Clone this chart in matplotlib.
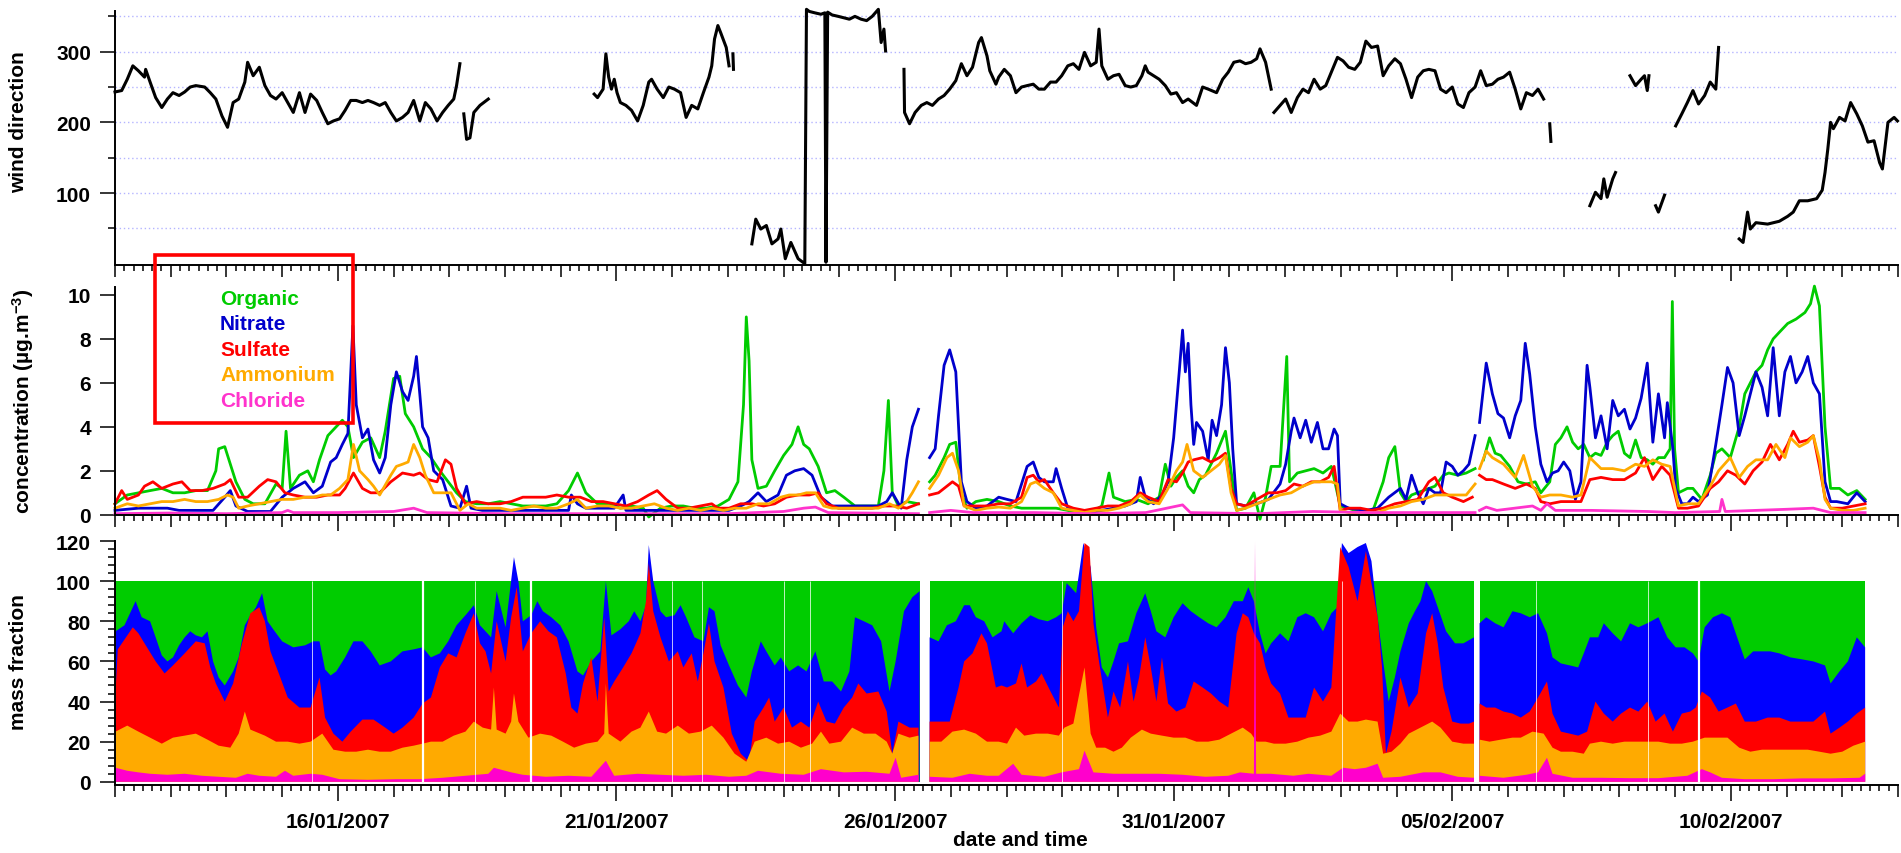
import datetime as dt
import numpy as np
import matplotlib
matplotlib.use("Agg")
import matplotlib.pyplot as plt
from matplotlib.ticker import FixedLocator, FuncFormatter, MultipleLocator
from matplotlib.patches import Rectangle

plt.rcParams["font.family"] = ["Liberation Sans", "DejaVu Sans"]
plt.rcParams["font.weight"] = "bold"
plt.rcParams["mathtext.fontset"] = "custom"
plt.rcParams["mathtext.rm"] = "Liberation Sans:bold"
plt.rcParams["mathtext.bf"] = "Liberation Sans:bold"
plt.rcParams["mathtext.it"] = "Liberation Sans:bold"

nan = np.nan
START = dt.datetime(2007, 1, 12)
SPAN_DAYS = 32
labelled_dates = ["2007-01-16", "2007-01-21", "2007-01-26",
                  "2007-01-31", "2007-02-05", "2007-02-10"]

# ---- wind direction (deg), (days since start, value); nan separates gaps ----
wind = [
    (0.00, 243), (0.12, 245), (0.22, 261), (0.32, 280), (0.42, 273), (0.53, 264), (0.55, 275),
    (0.63, 257), (0.73, 235), (0.84, 221), (0.94, 233), (1.04, 242), (1.15, 238), (1.25, 243),
    (1.35, 250), (1.45, 252), (1.61, 250), (1.71, 242), (1.81, 233), (1.92, 209), (2.02, 193),
    (2.12, 228), (2.22, 233), (2.33, 257), (2.38, 285), (2.48, 266), (2.59, 278), (2.69, 252),
    (2.79, 238), (2.89, 233), (3.00, 242), (3.10, 228), (3.20, 214), (3.31, 242), (3.41, 214),
    (3.51, 240), (3.62, 231), (3.72, 214), (3.82, 198), (3.92, 202), (4.03, 205), (4.13, 217),
    (4.23, 231), (4.33, 231), (4.44, 228), (4.54, 231), (4.64, 228), (4.75, 224), (4.85, 228),
    (4.95, 214), (5.05, 202), (5.16, 207), (5.26, 214), (5.36, 231), (5.47, 202), (5.57, 228),
    (5.67, 219), (5.78, 202), (5.88, 214), (5.98, 224), (6.08, 233), (6.13, 252), (6.19, 283),
    (6.22, nan),
    (6.26, 212), (6.31, 176), (6.37, 178), (6.44, 214), (6.55, 224), (6.70, 233),
    (7.50, nan),
    (8.60, 240), (8.66, 235), (8.76, 247), (8.81, 297), (8.86, 264), (8.91, 247), (8.96, 261),
    (9.01, 242), (9.07, 228), (9.17, 224), (9.27, 217), (9.38, 202), (9.48, 224), (9.58, 257),
    (9.63, 261), (9.73, 247), (9.84, 235), (9.94, 250), (10.04, 247), (10.15, 242), (10.25, 207),
    (10.35, 224), (10.46, 219), (10.56, 242), (10.66, 264), (10.71, 280), (10.76, 318),
    (10.82, 337), (10.87, 327), (10.97, 306), (11.02, 280),
    (11.05, nan), (11.09, 297), (11.10, 275), (11.20, nan),
    (11.43, 28), (11.50, 63), (11.59, 49), (11.69, 54), (11.79, 28), (11.90, 35), (11.95, 49),
    (12.03, 7), (12.13, 30), (12.26, 7), (12.38, 0), (12.41, 360), (12.46, 357), (12.56, 355),
    (12.67, 353), (12.74, 355), (12.76, 2), (12.79, 356), (12.87, 352), (12.98, 350),
    (13.08, 348), (13.18, 346), (13.28, 350), (13.39, 346), (13.49, 344), (13.59, 350),
    (13.70, 360), (13.75, 313), (13.80, 332), (13.83, 301),
    (14.00, nan),
    (14.16, 275), (14.17, 214), (14.26, 198), (14.36, 214), (14.47, 224), (14.57, 228),
    (14.67, 224), (14.78, 233), (14.88, 238), (14.98, 247), (15.09, 259), (15.19, 283),
    (15.29, 266), (15.39, 278), (15.50, 313), (15.55, 320), (15.65, 294), (15.70, 273),
    (15.81, 254), (15.86, 264), (15.96, 275), (16.07, 266), (16.17, 242), (16.27, 250),
    (16.37, 252), (16.48, 254), (16.58, 247), (16.68, 247), (16.79, 257), (16.89, 257),
    (16.99, 266), (17.10, 280), (17.20, 283), (17.30, 275), (17.40, 299), (17.51, 280),
    (17.61, 285), (17.66, 332), (17.71, 280), (17.82, 261), (17.92, 266), (18.02, 268),
    (18.13, 252), (18.23, 250), (18.33, 252), (18.43, 266), (18.49, 280), (18.54, 271),
    (18.64, 266), (18.74, 261), (18.85, 252), (18.95, 240), (19.05, 242), (19.16, 228),
    (19.26, 233), (19.41, 224), (19.52, 250), (19.62, 247), (19.77, 242), (19.88, 261),
    (19.98, 271), (20.08, 285), (20.19, 287), (20.29, 283), (20.39, 285), (20.49, 290),
    (20.55, 304), (20.65, 285), (20.75, 247),
    (20.78, nan),
    (20.80, 214), (20.91, 224), (21.01, 233), (21.11, 214), (21.22, 235), (21.32, 247),
    (21.42, 242), (21.52, 261), (21.63, 247), (21.73, 252), (21.83, 271), (21.94, 292),
    (22.04, 287), (22.14, 278), (22.25, 275), (22.35, 285), (22.45, 315), (22.55, 306),
    (22.66, 308), (22.76, 266), (22.86, 280), (22.97, 290), (23.07, 283), (23.17, 261),
    (23.27, 235), (23.38, 264), (23.48, 273), (23.58, 275), (23.69, 273), (23.79, 247),
    (23.89, 242), (24.00, 250), (24.10, 226), (24.20, 221), (24.30, 242), (24.41, 250),
    (24.51, 273), (24.61, 252), (24.72, 254), (24.82, 261), (24.92, 264), (25.03, 271),
    (25.13, 247), (25.23, 219), (25.33, 242), (25.44, 238), (25.54, 247), (25.64, 233),
    (25.70, nan), (25.75, 198), (25.77, 173), (26.10, nan),
    (26.47, 82), (26.57, 101), (26.67, 92), (26.72, 120), (26.78, 94), (26.88, 120),
    (26.93, 129), (27.05, nan),
    (27.19, 266), (27.29, 252), (27.39, 261), (27.45, 266), (27.50, 245), (27.53, 266),
    (27.60, nan), (27.65, 82), (27.70, 73), (27.81, 97), (27.90, nan),
    (28.01, 195), (28.12, 212), (28.22, 228), (28.32, 245), (28.42, 226), (28.53, 238),
    (28.63, 257), (28.73, 247), (28.78, 306), (29.00, nan),
    (29.15, 35), (29.22, 30), (29.30, 73), (29.35, 49), (29.45, 58), (29.66, 56), (29.87, 60),
    (30.02, 67), (30.12, 73), (30.23, 89), (30.38, 89), (30.54, 92), (30.64, 104), (30.69, 129),
    (30.74, 162), (30.79, 200), (30.84, 191), (30.95, 207), (31.05, 202), (31.15, 228),
    (31.26, 212), (31.36, 195), (31.46, 172), (31.57, 174), (31.67, 143), (31.72, 134),
    (31.77, 167), (31.82, 200), (31.93, 207), (31.99, 202),
]

# ---- concentrations (ug/m3) ----
organic = [
    (0.00, 0.5), (0.22, 0.9), (0.42, 1.0), (0.63, 1.1), (0.84, 1.2), (1.04, 1.0), (1.25, 1.0),
    (1.45, 1.1), (1.66, 1.1), (1.81, 2.0), (1.86, 3.0), (1.97, 3.1), (2.07, 2.3), (2.17, 1.5),
    (2.33, 0.7), (2.48, 0.5), (2.69, 0.5), (2.89, 1.4), (3.00, 1.2), (3.07, 3.8), (3.15, 1.2),
    (3.31, 1.8), (3.46, 2.0), (3.56, 1.5), (3.67, 2.5), (3.82, 3.6), (3.97, 4.0), (4.08, 4.3),
    (4.18, 4.0), (4.28, 2.6), (4.44, 3.3), (4.59, 3.5), (4.75, 2.6), (4.85, 3.8), (5.00, 6.2),
    (5.11, 6.3), (5.21, 4.6), (5.36, 4.0), (5.52, 3.0), (5.67, 2.6), (5.83, 2.0), (5.98, 1.5),
    (6.13, 1.0), (6.29, 0.6), (6.49, 0.5), (6.70, 0.5), (6.91, 0.6), (7.11, 0.5), (7.32, 0.4),
    (7.52, 0.4), (7.73, 0.4), (7.93, 0.5), (8.14, 1.1), (8.30, 1.9), (8.45, 1.0), (8.66, 0.5),
    (8.86, 0.5), (9.07, 0.3), (9.27, 0.4), (9.48, 0.3), (9.58, -0.1), (9.79, 0.3), (9.99, 0.4),
    (10.20, 0.4), (10.40, 0.3), (10.61, 0.3), (10.82, 0.4), (11.02, 0.7), (11.18, 1.5),
    (11.28, 5.0), (11.33, 9.0), (11.38, 7.0), (11.43, 2.5), (11.54, 1.2), (11.69, 1.3),
    (11.84, 2.0), (12.00, 2.7), (12.15, 3.2), (12.26, 4.0), (12.36, 3.2), (12.46, 3.0),
    (12.62, 2.2), (12.77, 1.0), (12.92, 1.1), (13.08, 0.8), (13.28, 0.4), (13.49, 0.4),
    (13.70, 0.4), (13.80, 2.0), (13.88, 5.2), (13.95, 1.0), (14.06, 0.4), (14.21, 0.6),
    (14.42, 0.5), (14.53, nan), (14.62, 1.5), (14.72, 1.8), (14.88, 2.6), (14.98, 3.2),
    (15.09, 3.3), (15.19, 1.0), (15.29, 0.3), (15.45, 0.6), (15.65, 0.7), (15.86, 0.6),
    (16.07, 0.4), (16.27, 0.3), (16.48, 0.3), (16.68, 0.3), (16.89, 0.3), (17.10, 0.2),
    (17.30, 0.1), (17.51, 0.1), (17.71, 0.4), (17.84, 1.9), (17.92, 0.8), (18.13, 0.6),
    (18.33, 0.7), (18.54, 0.5), (18.74, 0.8), (18.85, 2.3), (18.95, 1.3), (19.05, 1.7),
    (19.16, 2.0), (19.26, 1.3), (19.36, 1.0), (19.46, 1.6), (19.57, 1.8), (19.67, 2.3),
    (19.77, 2.8), (19.93, 3.8), (20.03, 2.0), (20.13, 0.2), (20.29, 0.3), (20.44, 1.0),
    (20.55, -0.2), (20.65, 0.8), (20.75, 2.2), (20.91, 2.2), (21.03, 7.2), (21.08, 1.5),
    (21.22, 1.9), (21.37, 2.0), (21.52, 2.1), (21.68, 1.9), (21.83, 2.2), (21.99, 0.4),
    (22.14, 0.3), (22.35, 0.1), (22.55, 0.0), (22.76, 1.5), (22.86, 2.6), (22.97, 3.1),
    (23.07, 1.0), (23.17, 0.6), (23.27, 0.9), (23.48, 1.1), (23.69, 1.3), (23.84, 1.8),
    (23.94, 1.9), (24.10, 1.8), (24.25, 1.9), (24.41, 2.1), (24.44, nan), (24.56, 2.5),
    (24.67, 3.5), (24.77, 2.8), (24.87, 2.7), (25.03, 2.2), (25.18, 1.5), (25.33, 1.4),
    (25.49, 1.5), (25.59, 1.0), (25.75, 1.5), (25.85, 3.2), (25.95, 3.5), (26.06, 4.0),
    (26.16, 3.3), (26.26, 3.0), (26.36, 3.2), (26.47, 2.6), (26.57, 2.8), (26.67, 2.7),
    (26.78, 3.3), (26.88, 3.6), (26.98, 3.8), (27.09, 2.8), (27.19, 2.6), (27.29, 3.4),
    (27.39, 2.6), (27.50, 2.5), (27.60, 2.3), (27.70, 2.6), (27.81, 2.6), (27.91, 3.0),
    (27.95, 9.7), (27.99, 3.0), (28.06, 1.0), (28.22, 1.2), (28.32, 1.2), (28.48, 0.7),
    (28.63, 1.8), (28.73, 2.8), (28.84, 3.0), (28.99, 2.6), (29.15, 4.0), (29.25, 5.5),
    (29.35, 6.0), (29.45, 6.5), (29.56, 6.8), (29.66, 7.5), (29.76, 8.0), (29.87, 8.3),
    (30.02, 8.7), (30.17, 8.9), (30.33, 9.2), (30.43, 9.6), (30.50, 10.4), (30.59, 9.5),
    (30.69, 4.0), (30.79, 1.2), (30.95, 1.2), (31.10, 0.9), (31.26, 1.1), (31.41, 0.7),
]

nitrate = [
    (0.00, 0.2), (0.42, 0.3), (0.94, 0.3), (1.15, 0.2), (1.76, 0.2), (1.97, 0.8), (2.07, 1.1),
    (2.17, 0.4), (2.38, 0.15), (2.79, 0.15), (3.00, 0.8), (3.20, 1.2), (3.41, 1.5), (3.56, 1.0),
    (3.72, 1.3), (3.87, 2.4), (3.97, 2.6), (4.08, 3.2), (4.18, 3.7), (4.27, 8.6), (4.33, 5.0),
    (4.44, 3.5), (4.54, 3.9), (4.64, 2.5), (4.75, 1.9), (4.85, 2.6), (4.95, 5.0), (5.05, 6.5),
    (5.16, 5.6), (5.26, 5.2), (5.36, 6.3), (5.41, 7.2), (5.47, 5.5), (5.52, 4.0), (5.62, 3.5),
    (5.72, 2.0), (5.88, 1.6), (6.03, 0.4), (6.19, 0.3), (6.31, 1.3), (6.39, 0.3), (6.59, 0.2),
    (8.14, 0.2), (8.19, 0.9), (8.30, 0.5), (8.45, 0.3), (8.96, 0.3), (9.12, 0.9), (9.17, 0.2),
    (11.02, 0.2), (11.23, 0.4), (11.38, 0.6), (11.54, 1.0), (11.69, 0.6), (11.90, 0.9),
    (12.05, 1.8), (12.20, 2.0), (12.36, 2.1), (12.51, 1.8), (12.67, 0.8), (12.87, 0.4),
    (13.70, 0.4), (13.85, 0.6), (13.95, 1.0), (14.11, 0.3), (14.21, 2.5), (14.31, 4.0),
    (14.42, 4.8), (14.53, nan), (14.62, 2.6), (14.72, 3.0), (14.78, 4.5), (14.88, 6.8),
    (14.98, 7.5), (15.09, 6.5), (15.14, 4.0), (15.19, 1.5), (15.29, 0.6), (15.45, 0.3),
    (15.65, 0.4), (15.86, 0.8), (16.01, 0.7), (16.17, 0.6), (16.37, 2.2), (16.48, 2.4),
    (16.58, 1.7), (16.68, 1.5), (16.84, 1.5), (16.89, 2.1), (16.99, 1.2), (17.10, 0.3),
    (17.30, 0.2), (17.51, 0.1), (17.71, 0.2), (17.92, 0.3), (18.13, 0.4), (18.33, 0.6),
    (18.40, 1.7), (18.49, 0.8), (18.64, 0.5), (18.79, 0.9), (18.90, 1.5), (19.00, 3.5),
    (19.10, 6.5), (19.16, 8.4), (19.21, 6.5), (19.26, 7.8), (19.31, 5.0), (19.36, 3.2),
    (19.41, 4.2), (19.52, 3.8), (19.62, 2.5), (19.69, 4.3), (19.77, 3.6), (19.86, 5.0),
    (19.93, 7.6), (20.00, 6.0), (20.06, 3.0), (20.13, 0.5), (20.29, 0.4), (20.49, 0.5),
    (20.70, 0.7), (20.91, 1.4), (21.01, 2.3), (21.11, 3.8), (21.16, 4.4), (21.27, 3.5),
    (21.37, 4.3), (21.47, 3.3), (21.58, 4.2), (21.68, 3.0), (21.78, 3.0), (21.88, 3.9),
    (21.94, 3.6), (21.99, 0.5), (22.14, 0.3), (22.45, 0.2), (22.66, 0.3), (22.86, 0.8),
    (23.07, 1.2), (23.17, 0.7), (23.27, 1.8), (23.38, 1.0), (23.48, 0.5), (23.58, 1.2),
    (23.69, 1.0), (23.79, 1.0), (23.89, 2.4), (24.00, 2.2), (24.10, 1.8), (24.20, 2.0),
    (24.30, 2.3), (24.41, 3.6), (24.44, nan), (24.49, 4.2), (24.61, 6.9), (24.72, 5.5),
    (24.82, 4.6), (24.92, 4.4), (25.03, 3.5), (25.13, 4.5), (25.23, 5.2), (25.31, 7.8),
    (25.39, 6.4), (25.49, 4.0), (25.59, 2.3), (25.70, 1.5), (25.80, 1.9), (25.90, 2.0),
    (26.00, 2.4), (26.11, 2.0), (26.21, 0.7), (26.31, 1.5), (26.42, 6.8), (26.47, 5.8),
    (26.57, 3.5), (26.67, 4.5), (26.78, 3.0), (26.88, 5.2), (26.98, 4.5), (27.09, 4.8),
    (27.19, 3.9), (27.29, 4.4), (27.39, 5.3), (27.50, 6.9), (27.60, 3.3), (27.70, 5.5),
    (27.81, 3.5), (27.86, 5.1), (27.96, 3.0), (28.01, 1.2), (28.12, 0.5), (28.22, 0.5),
    (28.32, 0.8), (28.42, 0.6), (28.58, 0.9), (28.73, 3.2), (28.84, 5.0), (28.94, 6.7),
    (29.04, 6.0), (29.15, 3.6), (29.25, 4.5), (29.35, 5.5), (29.45, 6.5), (29.56, 5.8),
    (29.66, 4.5), (29.76, 7.6), (29.87, 4.5), (29.97, 6.5), (30.07, 7.2), (30.17, 6.0),
    (30.28, 6.5), (30.38, 7.2), (30.48, 6.0), (30.59, 5.5), (30.69, 1.5), (30.79, 0.6),
    (30.90, 0.6), (31.10, 0.5), (31.26, 1.0), (31.41, 0.6),
]

sulfate = [
    (0.00, 0.5), (0.12, 1.1), (0.22, 0.7), (0.42, 0.9), (0.53, 1.3), (0.68, 1.5), (0.84, 1.2),
    (1.04, 1.4), (1.20, 1.5), (1.35, 1.1), (1.56, 1.1), (1.76, 1.2), (1.97, 1.4), (2.07, 1.6),
    (2.22, 0.8), (2.38, 0.8), (2.59, 1.3), (2.74, 1.6), (2.89, 1.5), (3.05, 1.0), (3.20, 0.9),
    (3.41, 0.8), (3.62, 0.8), (3.82, 0.9), (4.03, 0.9), (4.13, 1.2), (4.28, 1.9), (4.44, 1.2),
    (4.59, 1.0), (4.75, 1.0), (4.95, 1.5), (5.16, 1.9), (5.36, 1.8), (5.47, 1.9), (5.62, 1.6),
    (5.78, 1.5), (5.93, 2.5), (6.03, 2.3), (6.13, 1.2), (6.29, 0.5), (6.49, 0.6), (6.70, 0.5),
    (6.91, 0.5), (7.11, 0.6), (7.32, 0.8), (7.52, 0.8), (7.73, 0.8), (7.93, 0.9), (8.14, 0.8),
    (8.35, 0.8), (8.55, 0.6), (8.76, 0.6), (8.96, 0.5), (9.17, 0.4), (9.38, 0.6), (9.58, 0.9),
    (9.73, 1.1), (9.89, 0.7), (10.10, 0.3), (10.30, 0.3), (10.51, 0.4), (10.71, 0.5),
    (10.82, 0.3), (11.02, 0.3), (11.23, 0.5), (11.43, 0.5), (11.64, 0.4), (11.84, 0.5),
    (12.05, 0.8), (12.26, 0.9), (12.46, 0.9), (12.62, 1.0), (12.77, 0.5), (12.98, 0.3),
    (13.18, 0.3), (13.39, 0.3), (13.59, 0.3), (13.80, 0.4), (14.01, 0.4), (14.21, 0.3),
    (14.42, 0.5), (14.53, nan), (14.62, 0.9), (14.78, 1.0), (14.93, 1.3), (15.03, 1.5),
    (15.14, 1.3), (15.24, 0.4), (15.45, 0.4), (15.65, 0.4), (15.86, 0.5), (16.07, 0.5),
    (16.27, 0.8), (16.37, 1.7), (16.48, 1.8), (16.58, 1.5), (16.68, 1.6), (16.84, 1.0),
    (16.99, 0.5), (17.20, 0.3), (17.40, 0.2), (17.61, 0.3), (17.82, 0.4), (18.02, 0.4),
    (18.23, 0.6), (18.40, 1.0), (18.54, 0.8), (18.74, 0.6), (18.90, 1.6), (19.05, 1.5),
    (19.16, 1.9), (19.26, 2.4), (19.36, 2.5), (19.52, 2.6), (19.67, 2.4), (19.82, 2.6),
    (19.93, 2.8), (20.03, 1.2), (20.13, 0.5), (20.29, 0.4), (20.49, 0.7), (20.70, 1.0),
    (20.85, 1.0), (21.01, 1.1), (21.16, 1.4), (21.32, 1.3), (21.47, 1.5), (21.63, 1.5),
    (21.78, 1.7), (21.88, 2.2), (21.99, 0.2), (22.14, 0.3), (22.35, 0.3), (22.55, 0.2),
    (22.76, 0.3), (22.97, 0.5), (23.17, 0.6), (23.38, 0.7), (23.58, 1.5), (23.69, 1.7),
    (23.84, 1.0), (24.00, 0.8), (24.20, 0.6), (24.36, 0.8), (24.44, nan), (24.49, 1.8),
    (24.61, 1.6), (24.72, 1.6), (24.92, 1.4), (25.13, 1.2), (25.33, 1.4), (25.49, 1.2),
    (25.59, 0.6), (25.75, 0.5), (25.95, 0.6), (26.16, 0.6), (26.31, 0.6), (26.47, 1.6),
    (26.67, 1.7), (26.88, 1.6), (27.09, 1.6), (27.29, 1.9), (27.45, 2.6), (27.60, 1.6),
    (27.76, 2.2), (27.91, 1.8), (28.06, 0.3), (28.22, 0.3), (28.42, 0.4), (28.63, 1.2),
    (28.78, 1.5), (28.94, 2.0), (29.09, 1.8), (29.25, 1.4), (29.40, 2.0), (29.56, 2.4),
    (29.71, 3.2), (29.87, 2.5), (30.02, 3.2), (30.12, 3.8), (30.23, 3.3), (30.38, 3.4),
    (30.48, 3.6), (30.59, 2.2), (30.69, 0.8), (30.79, 0.3), (31.00, 0.3), (31.20, 0.4),
    (31.41, 0.5),
]

ammonium = [
    (0.00, 0.3), (0.22, 0.5), (0.42, 0.4), (0.63, 0.5), (0.84, 0.6), (1.04, 0.6), (1.25, 0.7),
    (1.45, 0.6), (1.66, 0.6), (1.86, 0.7), (2.02, 0.9), (2.12, 0.8), (2.22, 0.3), (2.38, 0.4),
    (2.59, 0.5), (2.79, 0.6), (3.00, 0.7), (3.20, 0.7), (3.41, 0.8), (3.56, 0.8), (3.72, 0.9),
    (3.87, 0.9), (4.03, 1.2), (4.18, 1.6), (4.28, 3.2), (4.39, 2.0), (4.54, 1.6), (4.64, 1.3),
    (4.75, 0.9), (4.95, 1.8), (5.05, 2.2), (5.16, 2.3), (5.26, 2.4), (5.36, 3.2), (5.47, 2.6),
    (5.57, 1.8), (5.72, 1.0), (5.88, 1.0), (6.03, 1.0), (6.19, 0.2), (6.34, 0.5), (6.49, 0.3),
    (6.91, 0.3), (7.11, 0.2), (7.32, 0.3), (7.52, 0.4), (7.73, 0.3), (7.93, 0.3), (8.14, 0.5),
    (8.30, 0.7), (8.45, 0.3), (8.66, 0.4), (8.86, 0.4), (9.07, 0.3), (9.27, 0.3), (9.48, 0.4),
    (9.68, 0.5), (9.89, 0.3), (10.10, 0.2), (10.30, 0.3), (10.51, 0.2), (10.71, 0.3),
    (10.92, 0.2), (11.12, 0.3), (11.33, 0.3), (11.54, 0.5), (11.74, 0.5), (11.95, 0.8),
    (12.10, 0.9), (12.26, 0.9), (12.41, 1.0), (12.57, 1.0), (12.72, 0.4), (12.87, 0.3),
    (13.70, 0.3), (13.90, 0.5), (14.06, 0.3), (14.21, 0.6), (14.31, 1.0), (14.42, 1.5),
    (14.53, nan), (14.62, 1.2), (14.78, 1.8), (14.93, 2.6), (15.03, 2.8), (15.14, 2.0),
    (15.24, 0.4), (15.45, 0.2), (15.65, 0.3), (15.86, 0.35), (16.07, 0.3), (16.27, 0.6),
    (16.43, 1.4), (16.53, 1.5), (16.68, 1.2), (16.84, 1.0), (16.99, 0.3), (17.20, 0.2),
    (17.40, 0.1), (17.61, 0.2), (17.82, 0.2), (18.02, 0.3), (18.23, 0.5), (18.40, 0.9),
    (18.54, 0.6), (18.74, 0.5), (18.90, 1.2), (19.05, 2.0), (19.16, 2.4), (19.24, 3.2),
    (19.36, 2.0), (19.52, 1.7), (19.67, 2.0), (19.82, 2.3), (19.93, 2.7), (20.03, 1.0),
    (20.13, 0.2), (20.29, 0.3), (20.49, 0.5), (20.70, 0.7), (20.91, 0.9), (21.11, 1.0),
    (21.32, 1.3), (21.52, 1.5), (21.68, 1.5), (21.83, 1.5), (21.94, 1.4), (21.99, 0.2),
    (22.14, 0.1), (22.66, 0.1), (22.86, 0.3), (23.07, 0.4), (23.27, 0.6), (23.48, 0.7),
    (23.69, 0.9), (23.89, 0.9), (24.10, 0.9), (24.25, 0.9), (24.41, 1.4), (24.44, nan),
    (24.49, 2.1), (24.61, 2.9), (24.72, 2.6), (24.92, 2.3), (25.13, 1.7), (25.28, 2.7),
    (25.44, 1.3), (25.59, 0.8), (25.75, 0.9), (25.95, 0.9), (26.16, 0.8), (26.31, 0.9),
    (26.47, 2.6), (26.67, 2.1), (26.88, 2.1), (27.09, 2.0), (27.29, 2.3), (27.45, 2.2),
    (27.60, 2.5), (27.76, 2.3), (27.91, 2.2), (28.06, 0.4), (28.22, 0.5), (28.42, 0.5),
    (28.63, 1.3), (28.78, 2.0), (28.99, 2.6), (29.15, 1.7), (29.30, 2.2), (29.45, 2.5),
    (29.66, 2.5), (29.81, 3.2), (29.97, 2.6), (30.07, 3.5), (30.23, 3.1), (30.38, 3.3),
    (30.48, 3.6), (30.59, 2.5), (30.69, 0.7), (30.79, 0.3), (31.00, 0.2), (31.20, 0.2),
    (31.41, 0.3),
]

chloride = [
    (0.00, 0.05), (1.00, 0.08), (2.00, 0.05), (3.00, 0.10), (3.10, 0.20), (3.20, 0.10),
    (4.00, 0.10), (5.00, 0.15), (5.36, 0.30), (5.60, 0.10), (7.00, 0.05), (9.00, 0.05),
    (11.00, 0.05), (12.00, 0.15), (12.36, 0.30), (12.57, 0.35), (12.80, 0.10), (14.42, 0.05),
    (14.53, nan), (14.62, 0.10), (15.00, 0.20), (15.40, 0.10), (16.50, 0.10), (17.50, 0.05),
    (18.50, 0.10), (19.16, 0.45), (19.30, 0.10), (20.50, 0.05), (21.50, 0.15), (22.50, 0.10),
    (23.50, 0.10), (24.41, 0.10), (24.44, nan), (24.49, 0.20), (24.61, 0.35), (24.80, 0.20),
    (25.44, 0.40), (25.59, 0.20), (25.70, 0.50), (25.85, 0.20), (26.50, 0.20), (27.50, 0.15),
    (28.00, 0.10), (28.80, 0.15), (28.84, 0.70), (28.90, 0.15), (30.00, 0.25), (30.48, 0.30),
    (30.79, 0.10), (31.41, 0.10),
]

# ---- cumulative mass fraction (%): top edge of each stacked layer ----
organic_cum = [(0.00, 100), (14.44, 100), (14.53, nan), (14.62, 100), (24.39, 100),
               (24.43, nan), (24.49, 100), (31.41, 100)]

nitrate_cum = [
    (0.01, 75), (0.17, 78), (0.37, 90), (0.48, 82), (0.63, 80), (0.73, 72), (0.84, 63),
    (0.94, 60), (1.04, 62), (1.15, 68), (1.25, 72), (1.35, 75), (1.45, 73), (1.56, 72),
    (1.66, 75), (1.76, 60), (1.86, 52), (1.97, 48), (2.12, 55), (2.22, 62), (2.33, 78),
    (2.43, 83), (2.53, 87), (2.64, 94), (2.74, 80), (2.84, 76), (3.00, 70), (3.20, 67),
    (3.41, 68), (3.56, 70), (3.67, 70), (3.77, 56), (3.87, 53), (3.97, 55), (4.13, 62),
    (4.28, 70), (4.44, 70), (4.59, 65), (4.75, 58), (4.95, 60), (5.16, 65), (5.36, 66),
    (5.52, 67), (5.67, 62), (5.83, 64), (5.98, 70), (6.13, 78), (6.29, 83), (6.44, 88),
    (6.55, 78), (6.65, 75), (6.75, 72), (6.85, 95), (7.01, 77), (7.16, 112), (7.24, 100),
    (7.32, 80), (7.47, 83), (7.58, 90), (7.68, 85), (7.83, 82), (7.99, 78), (8.14, 70),
    (8.30, 55), (8.40, 53), (8.55, 60), (8.71, 65), (8.81, 100), (8.91, 73), (9.07, 76),
    (9.22, 80), (9.32, 85), (9.43, 80), (9.53, 88), (9.58, 118), (9.66, 100), (9.79, 85),
    (9.89, 82), (10.04, 83), (10.15, 88), (10.25, 82), (10.40, 72), (10.56, 70), (10.66, 87),
    (10.76, 85), (10.87, 68), (11.02, 58), (11.18, 48), (11.33, 42), (11.43, 55), (11.59, 70),
    (11.69, 65), (11.84, 58), (11.95, 62), (12.10, 55), (12.26, 58), (12.41, 55), (12.57, 65),
    (12.72, 50), (12.87, 50), (13.03, 45), (13.18, 55), (13.28, 82), (13.44, 80), (13.59, 78),
    (13.75, 70), (13.90, 45), (14.01, 60), (14.16, 85), (14.31, 92), (14.44, 95), (14.53, nan),
    (14.62, 72), (14.78, 70), (14.93, 78), (15.09, 80), (15.24, 88), (15.34, 88), (15.45, 82),
    (15.60, 80), (15.75, 72), (15.91, 75), (15.96, 80), (16.12, 74), (16.27, 79), (16.43, 83),
    (16.58, 81), (16.74, 80), (16.89, 82), (16.99, 84), (17.08, 99), (17.15, 97), (17.25, 94),
    (17.38, 119), (17.51, 107), (17.61, 77), (17.71, 57), (17.82, 52), (17.92, 60), (18.02, 69),
    (18.18, 70), (18.33, 84), (18.49, 94), (18.59, 85), (18.69, 75), (18.85, 72), (19.00, 82),
    (19.16, 89), (19.31, 85), (19.46, 82), (19.62, 79), (19.77, 77), (19.93, 82), (20.08, 90),
    (20.24, 90), (20.34, 97), (20.44, 90), (20.55, 74), (20.65, 64), (20.75, 69), (20.91, 74),
    (21.06, 70), (21.22, 82), (21.37, 84), (21.52, 82), (21.68, 75), (21.83, 84), (21.94, 87),
    (22.02, 119), (22.14, 114), (22.30, 117), (22.45, 119), (22.55, 110), (22.66, 82),
    (22.76, 60), (22.86, 40), (22.97, 52), (23.07, 65), (23.22, 79), (23.33, 85), (23.43, 90),
    (23.53, 100), (23.64, 95), (23.74, 87), (23.89, 75), (24.05, 69), (24.20, 69), (24.39, 72),
    (24.43, nan), (24.49, 79), (24.61, 82), (24.77, 79), (24.92, 77), (25.08, 85), (25.23, 84),
    (25.39, 82), (25.54, 84), (25.70, 74), (25.80, 62), (25.95, 59), (26.11, 58), (26.26, 57),
    (26.36, 64), (26.47, 72), (26.62, 72), (26.72, 79), (26.88, 74), (27.03, 70), (27.19, 79),
    (27.34, 77), (27.50, 79), (27.70, 82), (27.86, 72), (28.01, 67), (28.17, 67), (28.32, 64),
    (28.42, 60), (28.53, 77), (28.68, 82), (28.84, 84), (28.99, 82), (29.15, 69), (29.25, 61),
    (29.40, 65), (29.56, 65), (29.71, 65), (29.87, 64), (30.07, 62), (30.28, 61), (30.48, 60),
    (30.69, 58), (30.79, 49), (30.95, 55), (31.10, 60), (31.26, 72), (31.41, 67),
]

sulfate_cum = [
    (0.01, 45), (0.05, 66), (0.32, 77), (0.42, 74), (0.53, 69), (0.73, 60), (0.89, 54),
    (1.04, 58), (1.25, 64), (1.45, 70), (1.61, 69), (1.71, 57), (1.81, 49), (1.97, 40),
    (2.12, 49), (2.28, 69), (2.43, 84), (2.59, 87), (2.69, 80), (2.79, 65), (2.94, 54),
    (3.10, 42), (3.31, 37), (3.51, 37), (3.67, 52), (3.77, 32), (3.92, 24), (4.08, 20),
    (4.23, 25), (4.44, 31), (4.64, 31), (4.85, 27), (5.00, 24), (5.16, 27), (5.36, 32),
    (5.52, 39), (5.67, 42), (5.83, 57), (5.98, 64), (6.13, 62), (6.29, 74), (6.44, 84),
    (6.55, 69), (6.65, 65), (6.75, 54), (6.85, 80), (7.01, 60), (7.11, 82), (7.21, 97),
    (7.32, 65), (7.47, 74), (7.63, 80), (7.78, 75), (7.93, 72), (8.09, 54), (8.19, 37),
    (8.30, 34), (8.40, 49), (8.55, 62), (8.66, 40), (8.78, 82), (8.86, 45), (8.96, 50),
    (9.12, 57), (9.27, 64), (9.43, 74), (9.53, 90), (9.58, 109), (9.66, 85), (9.79, 72),
    (9.94, 60), (10.10, 65), (10.20, 57), (10.35, 64), (10.46, 50), (10.56, 64), (10.66, 79),
    (10.76, 60), (10.92, 47), (11.07, 24), (11.23, 14), (11.38, 10), (11.48, 30), (11.64, 37),
    (11.74, 42), (11.84, 30), (12.00, 37), (12.15, 27), (12.31, 30), (12.46, 27), (12.62, 40),
    (12.77, 30), (12.92, 29), (13.08, 37), (13.23, 42), (13.34, 49), (13.49, 44), (13.70, 45),
    (13.85, 35), (13.95, 14), (14.06, 30), (14.26, 27), (14.42, 27), (14.53, nan), (14.62, 30),
    (14.83, 30), (14.98, 30), (15.14, 47), (15.24, 60), (15.39, 64), (15.55, 74), (15.65, 69),
    (15.81, 47), (15.91, 48), (16.01, 47), (16.17, 49), (16.27, 59), (16.37, 47), (16.53, 50),
    (16.63, 54), (16.79, 45), (16.94, 37), (17.01, 77), (17.10, 85), (17.20, 80), (17.30, 85),
    (17.40, 119), (17.49, 117), (17.56, 79), (17.66, 60), (17.82, 32), (17.92, 45), (18.04, 37),
    (18.18, 60), (18.28, 40), (18.38, 52), (18.49, 72), (18.59, 57), (18.69, 40), (18.79, 62),
    (18.90, 39), (19.05, 35), (19.21, 37), (19.36, 50), (19.52, 47), (19.67, 44), (19.82, 40),
    (19.98, 37), (20.13, 74), (20.24, 84), (20.34, 82), (20.44, 74), (20.55, 69), (20.65, 57),
    (20.75, 49), (20.91, 44), (21.06, 32), (21.22, 32), (21.37, 32), (21.52, 47), (21.68, 40),
    (21.83, 47), (21.99, 117), (22.14, 107), (22.30, 90), (22.45, 115), (22.55, 99),
    (22.66, 82), (22.74, 57), (22.81, 14), (22.91, 25), (23.07, 52), (23.22, 37), (23.38, 44),
    (23.53, 74), (23.64, 84), (23.74, 69), (23.84, 47), (24.00, 30), (24.15, 29), (24.30, 29),
    (24.39, 30), (24.43, nan), (24.49, 39), (24.61, 37), (24.77, 37), (24.92, 35), (25.08, 34),
    (25.23, 32), (25.39, 35), (25.54, 42), (25.70, 50), (25.80, 34), (25.95, 25), (26.11, 24),
    (26.26, 23), (26.42, 25), (26.57, 40), (26.72, 34), (26.88, 30), (27.03, 34), (27.19, 37),
    (27.34, 35), (27.50, 40), (27.65, 30), (27.81, 34), (27.96, 25), (28.12, 34), (28.27, 35),
    (28.37, 37), (28.48, 45), (28.63, 42), (28.78, 35), (28.94, 37), (29.09, 39), (29.25, 30),
    (29.45, 30), (29.66, 32), (29.87, 32), (30.07, 30), (30.28, 30), (30.48, 30), (30.69, 35),
    (30.79, 24), (30.95, 27), (31.10, 30), (31.26, 34), (31.41, 37),
]

ammonium_cum = [
    (0.01, 25), (0.22, 28), (0.42, 25), (0.63, 22), (0.84, 19), (1.04, 22), (1.25, 23),
    (1.45, 24), (1.66, 21), (1.86, 18), (2.07, 17), (2.22, 24), (2.33, 35), (2.43, 26),
    (2.69, 23), (2.89, 20), (3.10, 20), (3.31, 19), (3.51, 20), (3.72, 24), (3.92, 16),
    (4.13, 15), (4.33, 15), (4.54, 16), (4.75, 15), (4.95, 15), (5.16, 17), (5.36, 18),
    (5.52, 19), (5.67, 20), (5.88, 20), (6.08, 23), (6.29, 25), (6.44, 30), (6.60, 27),
    (6.75, 26), (6.80, 47), (6.85, 26), (7.01, 24), (7.11, 30), (7.16, 44), (7.24, 30),
    (7.42, 22), (7.63, 24), (7.83, 23), (8.04, 20), (8.24, 17), (8.45, 19), (8.66, 20),
    (8.78, 24), (8.81, 49), (8.86, 24), (9.07, 20), (9.27, 25), (9.43, 27), (9.58, 35),
    (9.73, 25), (9.89, 24), (10.10, 28), (10.30, 24), (10.51, 25), (10.71, 28), (10.92, 22),
    (11.12, 14), (11.33, 10), (11.48, 20), (11.69, 22), (11.90, 19), (12.10, 20), (12.31, 17),
    (12.51, 19), (12.67, 25), (12.82, 19), (13.03, 20), (13.23, 27), (13.44, 24), (13.65, 24),
    (13.85, 20), (13.95, 14), (14.06, 24), (14.26, 22), (14.42, 23), (14.53, nan), (14.62, 20),
    (14.83, 20), (15.03, 25), (15.24, 26), (15.45, 24), (15.65, 20), (15.86, 20), (16.01, 19),
    (16.17, 27), (16.32, 23), (16.53, 24), (16.74, 24), (16.94, 23), (17.04, 27), (17.20, 29),
    (17.40, 57), (17.51, 24), (17.61, 17), (17.77, 17), (17.92, 15), (18.07, 17), (18.23, 22),
    (18.43, 26), (18.59, 24), (18.79, 23), (19.00, 22), (19.21, 22), (19.41, 20), (19.62, 20),
    (19.82, 21), (20.03, 24), (20.24, 27), (20.39, 24), (20.49, 20), (20.65, 20), (20.80, 19),
    (21.01, 19), (21.22, 20), (21.42, 22), (21.63, 23), (21.83, 25), (21.99, 34), (22.14, 30),
    (22.30, 30), (22.45, 31), (22.66, 30), (22.76, 14), (22.91, 15), (23.07, 19), (23.22, 24),
    (23.43, 27), (23.64, 30), (23.79, 27), (24.00, 20), (24.20, 19), (24.39, 19), (24.43, nan),
    (24.49, 21), (24.67, 20), (24.87, 21), (25.08, 22), (25.23, 22), (25.44, 25), (25.64, 24),
    (25.80, 17), (25.95, 15), (26.16, 15), (26.36, 14), (26.47, 19), (26.67, 20), (26.88, 19),
    (27.09, 20), (27.29, 20), (27.50, 20), (27.70, 20), (27.91, 19), (28.12, 19), (28.32, 20),
    (28.53, 22), (28.73, 22), (28.94, 22), (29.15, 17), (29.35, 15), (29.56, 16), (29.76, 16),
    (29.97, 16), (30.17, 16), (30.38, 16), (30.59, 15), (30.79, 14), (31.00, 15), (31.20, 18),
    (31.41, 20),
]

chloride_cum = [
    (0.01, 7), (0.22, 5.5), (0.42, 4.7), (0.63, 4), (0.94, 3.5), (1.25, 4), (1.56, 3),
    (1.86, 2.5), (2.17, 2), (2.38, 4), (2.59, 3), (2.89, 2.5), (3.05, 5.5), (3.20, 3),
    (3.51, 4), (3.72, 3.5), (4.03, 1.3), (4.54, 1), (5.05, 1.3), (5.47, 1.3), (5.88, 2),
    (6.29, 3), (6.70, 4), (6.80, 7), (7.11, 4.7), (7.32, 3.5), (7.73, 2.5), (8.14, 3),
    (8.55, 2.5), (8.81, 10.5), (8.96, 3), (9.38, 4), (9.79, 3.5), (10.20, 3), (10.61, 3.5),
    (11.02, 2.5), (11.33, 3), (11.54, 5.5), (11.95, 4), (12.36, 3.5), (12.67, 6.3),
    (13.08, 4.7), (13.49, 5), (13.90, 4), (14.01, 12), (14.11, 2), (14.42, 3.5), (14.53, nan),
    (14.62, 2.5), (15.03, 2), (15.34, 4), (15.65, 3), (15.86, 3), (16.12, 9), (16.27, 3.5),
    (16.68, 2.5), (16.99, 4.7), (17.30, 6.3), (17.40, 15.5), (17.56, 4.7), (17.92, 4),
    (18.33, 4), (18.74, 4), (19.16, 3.5), (19.57, 2.5), (19.98, 3), (20.19, 4.7), (20.44, 4),
    (20.46, 120), (20.48, 4), (20.74, 4), (21.15, 3), (21.42, 4), (21.83, 3), (22.04, 7),
    (22.25, 6.3), (22.45, 7), (22.66, 9), (22.76, 2), (23.07, 2.5), (23.48, 4.7), (23.79, 4.7),
    (24.10, 2.5), (24.39, 2), (24.43, nan), (24.49, 3), (24.92, 2), (25.33, 3.5), (25.54, 4.7),
    (25.70, 12), (25.80, 4), (26.16, 2), (26.67, 2), (27.19, 1.8), (27.70, 1.8), (28.22, 3),
    (28.48, 6.3), (28.63, 4.7), (28.84, 2), (29.25, 1.3), (29.76, 1.3), (30.28, 1.7),
    (30.79, 1.7), (31.31, 2), (31.41, 4),
]

# single missing samples in the fraction record
missing_strong = [5.52, 7.47, 28.42]
missing_faint = [3.54, 6.46, 9.99, 10.54, 12.00, 12.48, 16.99, 22.02, 25.51, 27.52]

species = ["Organic", "Nitrate", "Sulfate", "Ammonium", "Chloride"]
line_colors = ["#00cc00", "#0000cc", "#ff0000", "#ffaa00", "#ff33cc"]
fill_colors = ["#00cc00", "#0000ff", "#ff0000", "#ffaa00", "#ff00cc"]


def xy(pairs):
    a = np.array(pairs, dtype=float)
    return a[:, 0], a[:, 1]


W, H = 1901, 854
fig = plt.figure(figsize=(W / 100, H / 100), dpi=100)


def box(x0, y0, x1, y1):
    return [x0 / W, 1 - y1 / H, (x1 - x0) / W, (y1 - y0) / H]


ax_w = fig.add_axes(box(115, 12, 1898, 266))
ax_c = fig.add_axes(box(115, 288, 1898, 516))
ax_f = fig.add_axes(box(115, 542, 1898, 786))

label_pos = {}
for s in labelled_dates:
    d = dt.datetime.strptime(s, "%Y-%m-%d")
    label_pos[(d - START).days] = d.strftime("%d/%m/%Y")

TICK_W = 1.1
FS = 15


def style_axes(ax, show_dates):
    for side in ("top", "right"):
        ax.spines[side].set_visible(False)
    for side in ("left", "bottom"):
        ax.spines[side].set_linewidth(1.4)
    ax.set_xlim(0, SPAN_DAYS)
    days = np.arange(0, SPAN_DAYS + 1)
    ax.xaxis.set_major_locator(FixedLocator(days))
    ax.xaxis.set_minor_locator(FixedLocator(
        [d + k / 6 for d in range(SPAN_DAYS) for k in range(1, 6)]))
    ax.xaxis.set_major_formatter(FuncFormatter(
        lambda v, p: label_pos.get(int(round(v)), "") if show_dates else ""))
    ax.tick_params(axis="x", which="major", length=8.6, width=TICK_W,
                   pad=10.5, labelsize=FS, direction="out")
    ax.tick_params(axis="x", which="minor", length=4.3, width=TICK_W, direction="out")
    ax.tick_params(axis="y", which="major", length=10.8, width=TICK_W,
                   pad=6.5, labelsize=FS, direction="out")
    ax.tick_params(axis="y", which="minor", length=5.2, width=TICK_W, direction="out")
    for tick, loc in zip(ax.xaxis.get_major_ticks(), days):
        if int(loc) in label_pos:
            tick.tick1line.set_markersize(11.5)
    for lab in ax.get_yticklabels() + ax.get_xticklabels():
        lab.set_fontweight("bold")


# wind direction
t, v = xy(wind)
ax_w.plot(t, v, color="black", lw=2.2, clip_on=False, zorder=3)
ax_w.set_ylim(-1.9, 357.6)
ax_w.yaxis.set_major_locator(FixedLocator([100, 200, 300]))
ax_w.yaxis.set_minor_locator(FixedLocator([50, 150, 250, 350]))
ax_w.grid(True, which="both", axis="y", color="#b4b4ff",
          linestyle=(0, (1, 2)), lw=1.0, zorder=0)
style_axes(ax_w, False)

# concentrations
for series, col in zip([organic, nitrate, sulfate, ammonium, chloride], line_colors):
    t, v = xy(series)
    ax_c.plot(t, v, color=col, lw=2.0, clip_on=False, solid_joinstyle="round")
ax_c.set_ylim(-0.01, 10.36)
ax_c.yaxis.set_major_locator(MultipleLocator(2))
style_axes(ax_c, False)

# stacked mass fractions, each layer drawn from zero over the previous one
for series, col in zip([organic_cum, nitrate_cum, sulfate_cum, ammonium_cum, chloride_cum],
                       fill_colors):
    t, v = xy(series)
    ax_f.fill_between(t, 0, v, color=col, lw=0, antialiased=True)
ax_f.vlines(missing_strong, 0, 100, color="white", lw=1.6, zorder=4)
ax_f.vlines(missing_faint, 0, 100, color="white", lw=0.7, alpha=0.75, zorder=4)
ax_f.set_ylim(-1.6, 120)
ax_f.yaxis.set_major_locator(MultipleLocator(20))
ax_f.yaxis.set_minor_locator(MultipleLocator(4))
style_axes(ax_f, True)

# axis titles
fig.text(19 / W, 1 - 122 / H, "wind direction", rotation=90, ha="center", va="center",
         fontsize=FS, fontweight="bold")
fig.text(23 / W, 1 - 401 / H, "concentration (\u00b5g.m$^{-3}$)", rotation=90,
         ha="center", va="center", fontsize=FS, fontweight="bold")
fig.text(19 / W, 1 - 662 / H, "mass fraction", rotation=90, ha="center", va="center",
         fontsize=FS, fontweight="bold")
fig.text(1020 / W, 1 - 841 / H, "date and time", ha="center", va="center",
         fontsize=FS, fontweight="bold")

# species key
fig.add_artist(Rectangle((155 / W, 1 - 424 / H), 198 / W, 168 / H,
                         transform=fig.transFigure, fill=False,
                         edgecolor="#ff0000", lw=2.6))
for i, (name, col) in enumerate(zip(species, line_colors)):
    fig.text(220 / W, 1 - (305 + 25.5 * i) / H, name, color=col, fontsize=FS,
             fontweight="bold", va="baseline", ha="left")

fig.savefig("out.png", dpi=100)
